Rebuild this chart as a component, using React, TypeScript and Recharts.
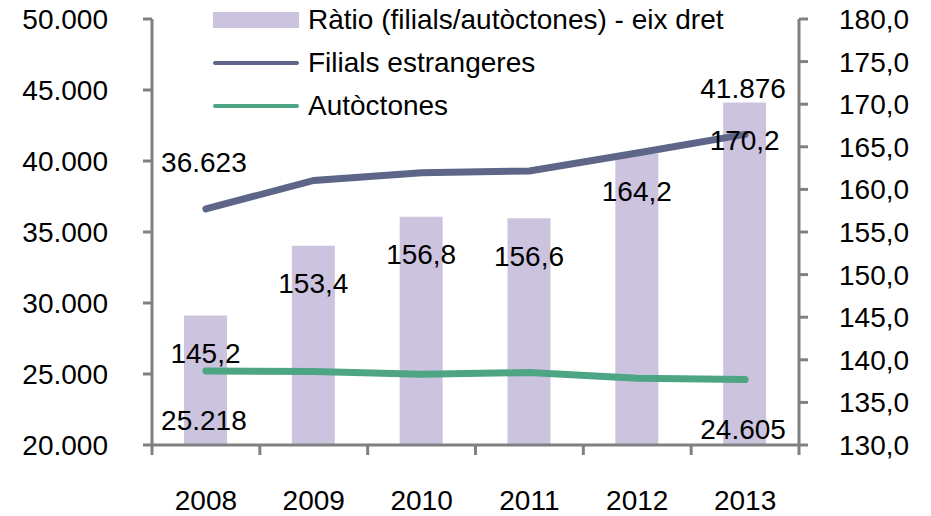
import React from "react";
import {
  Bar,
  ComposedChart,
  LabelList,
  Legend,
  Line,
  XAxis,
  YAxis,
} from "recharts";

const years = ["2008", "2009", "2010", "2011", "2012", "2013"];
const filials = [36623, 38630, 39180, 39300, 40560, 41876];
const autoctones = [25218, 25180, 24990, 25100, 24700, 24605];
const ratio = [145.2, 153.4, 156.8, 156.6, 164.2, 170.2];
const leftTicks = [20000, 25000, 30000, 35000, 40000, 45000, 50000];
const rightTicks = [130, 135, 140, 145, 150, 155, 160, 165, 170, 175, 180];

const data = years.map((year, i) => ({
  year,
  filials: filials[i],
  autoctones: autoctones[i],
  ratio: ratio[i],
}));

const FONT = '"Liberation Sans", Arial, sans-serif';
const AXIS = "#808080";
const BAR = "#CCC3DE";
const FIL = "#5D6688";
const AUT = "#4DA584";

const thousands = (v: number) =>
  Math.round(v)
    .toString()
    .replace(/\B(?=(\d{3})+(?!\d))/g, ".");
const decimal = (v: number) => v.toFixed(1).replace(".", ",");

const XTick = (props: any) => {
  const { x, y, payload, index } = props;
  const half = payload.offset || 53.9;
  return (
    <g>
      <line x1={x - half} x2={x - half} y1={y} y2={y + 10} stroke={AXIS} strokeWidth={3} />
      {index === years.length - 1 && (
        <line x1={x + half} x2={x + half} y1={y} y2={y + 10} stroke={AXIS} strokeWidth={3} />
      )}
      <text x={x} y={y + 65} textAnchor="middle" fontSize={28} fill="#000" fontFamily={FONT}>
        {payload.value}
      </text>
    </g>
  );
};

const barLabel = (props: any) => {
  const { x, y, width, value } = props;
  return (
    <text x={x + width / 2} y={y + 40} textAnchor="middle" dominantBaseline="middle" fontSize={28} fill="#000" fontFamily={FONT}>
      {decimal(value)}
    </text>
  );
};

const lineLabel = (dy: number) => (props: any) => {
  const { x, y, value, index } = props;
  if (index !== 0 && index !== years.length - 1) return null;
  return (
    <text x={x - 2} y={y + dy} textAnchor="middle" dominantBaseline="middle" fontSize={28} fill="#000" fontFamily={FONT}>
      {thousands(value)}
    </text>
  );
};

const legendItems = [
  { label: "Ràtio (filials/autòctones) - eix dret", color: BAR, bar: true },
  { label: "Filials estrangeres", color: FIL, bar: false },
  { label: "Autòctones", color: AUT, bar: false },
];

const LegendBox = () => (
  <div style={{ fontFamily: FONT, fontSize: 28, color: "#000", position: "relative" }}>
    {legendItems.map((it, i) => (
      <div key={it.label} style={{ position: "absolute", left: 0, top: i * 43, height: 40, display: "flex", alignItems: "center" }}>
        <div
          style={{
            width: 86,
            height: it.bar ? 16 : 4,
            background: it.color,
            borderRadius: it.bar ? 0 : 2,
            marginRight: 9,
          }}
        />
        <span style={{ whiteSpace: "nowrap" }}>{it.label}</span>
      </div>
    ))}
  </div>
);

export default function App() {
  return (
    <div style={{ position: "absolute", left: 0, top: 0, background: "#fff" }}>
      <ComposedChart
        width={931}
        height={516}
        data={data}
        margin={{ top: 19, right: 0, bottom: 0, left: 0 }}
        style={{ fontFamily: FONT }}
      >
        <XAxis
          dataKey="year"
          height={71}
          tickSize={0}
          tickMargin={0}
          tickLine={false}
          axisLine={{ stroke: AXIS, strokeWidth: 3 }}
          tick={<XTick />}
          interval={0}
        />
        <YAxis
          yAxisId="left"
          orientation="left"
          width={152}
          domain={[20000, 50000]}
          ticks={leftTicks}
          interval={0}
          tickFormatter={thousands}
          tickSize={9}
          tickMargin={35}
          tickLine={{ stroke: AXIS, strokeWidth: 3 }}
          axisLine={{ stroke: AXIS, strokeWidth: 3 }}
          tick={{ fill: "#000", fontSize: 28, fontFamily: FONT }}
          allowDataOverflow
        />
        <YAxis
          yAxisId="right"
          orientation="right"
          width={132}
          domain={[130, 180]}
          ticks={rightTicks}
          interval={0}
          tickFormatter={decimal}
          tickSize={9}
          tickMargin={31}
          tickLine={{ stroke: AXIS, strokeWidth: 3 }}
          axisLine={{ stroke: AXIS, strokeWidth: 3 }}
          tick={{ fill: "#000", fontSize: 28, fontFamily: FONT, textAnchor: "start" }}
          allowDataOverflow
        />
        <Legend
          content={<LegendBox />}
          layout="horizontal"
          verticalAlign="middle"
          align="center"
          wrapperStyle={{ position: "absolute", top: 0, left: 213, width: 600, height: 130 }}
        />
        <Bar
          yAxisId="right"
          dataKey="ratio"
          name="Ràtio (filials/autòctones) - eix dret"
          fill={BAR}
          barSize={43}
          isAnimationActive={false}
        >
          <LabelList dataKey="ratio" content={barLabel} />
        </Bar>
        <Line
          yAxisId="left"
          dataKey="filials"
          name="Filials estrangeres"
          stroke={FIL}
          strokeWidth={7}
          strokeLinecap="round"
          dot={false}
          activeDot={false}
          isAnimationActive={false}
        >
          <LabelList dataKey="filials" content={lineLabel(-44)} />
        </Line>
        <Line
          yAxisId="left"
          dataKey="autoctones"
          name="Autòctones"
          stroke={AUT}
          strokeWidth={7}
          strokeLinecap="round"
          dot={false}
          activeDot={false}
          isAnimationActive={false}
        >
          <LabelList dataKey="autoctones" content={lineLabel(52)} />
        </Line>
      </ComposedChart>
    </div>
  );
}
